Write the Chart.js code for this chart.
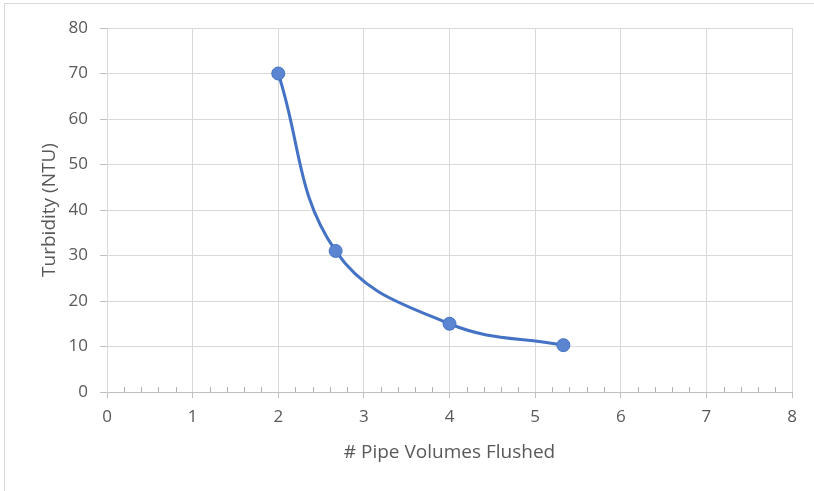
<!DOCTYPE html>
<html>
<head>
<meta charset="utf-8">
<script src="https://cdn.jsdelivr.net/npm/chart.js@4/dist/chart.umd.min.js"></script>
<style>
  body { margin: 0; background: #fff; }
  canvas { display: block; }
</style>
</head>
<body>
<canvas id="chart" width="814" height="491"></canvas>
<script>
// values
const pipeVolumes = [2, 2.67, 4, 5.33];
const turbidity = [70, 31, 15, 10.3];
const xRange = [0, 8];
const yRange = [0, 80];

const gridColor = "#d9d9d9";
const textColor = "#595959";
const blue = "#4472C4";

// outer frame + minor ticks along the x axis
const extras = {
  id: "extras",
  beforeDraw(chart) {
    const ctx = chart.ctx;
    ctx.save();
    ctx.fillStyle = "#fff";
    ctx.fillRect(0, 0, chart.width, chart.height);
    ctx.strokeStyle = gridColor;
    ctx.lineWidth = 1;
    ctx.strokeRect(4.5, 3.5, 1000, 1000);
    ctx.restore();
  },
  afterDatasetsDraw(chart) {
    const ctx = chart.ctx;
    const x = chart.scales.x;
    const yPix = chart.scales.y.getPixelForValue(0);
    ctx.save();
    ctx.strokeStyle = "#b0b0b0";
    ctx.lineWidth = 1;
    ctx.beginPath();
    for (let i = 0; i <= 40; i++) {
      if (i % 5 === 0) continue;
      const px = Math.round(x.getPixelForValue(i * 0.2)) + 0.5;
      ctx.moveTo(px, yPix - 5);
      ctx.lineTo(px, yPix);
    }
    ctx.stroke();
    ctx.restore();
  }
};

new Chart(document.getElementById("chart"), {
  type: "scatter",
  data: {
    datasets: [{
      data: pipeVolumes.map((v, i) => ({ x: v, y: turbidity[i] })),
      showLine: true,
      tension: 0.4,
      borderColor: blue,
      borderWidth: 3,
      pointRadius: 6.5,
      pointBackgroundColor: "#5B85D0",
      pointBorderColor: blue,
      pointBorderWidth: 1,
    }]
  },
  options: {
    responsive: false,
    animation: false,
    layout: { padding: { left: 0, right: 22, top: 28, bottom: 0 } },
    plugins: { legend: { display: false }, tooltip: { enabled: false } },
    scales: {
      x: {
        type: "linear",
        min: xRange[0],
        max: xRange[1],
        afterFit(scale) { scale.height = 99; },
        ticks: { stepSize: 1, color: textColor, padding: 9,
          font: { family: "'Open Sans'", size: 17 } },
        grid: { color: gridColor, tickLength: 6, tickColor: "#bfbfbf" },
        border: { color: "#bfbfbf" },
        title: {
          display: true, text: "# Pipe Volumes Flushed", color: textColor,
          font: { family: "'Open Sans'", size: 19 }, padding: { top: 0, bottom: 27 }
        }
      },
      y: {
        min: yRange[0],
        max: yRange[1],
        afterFit(scale) { scale.width = 107; },
        ticks: { stepSize: 10, color: textColor, padding: 12,
          font: { family: "'Open Sans'", size: 17 } },
        grid: { color: gridColor, tickLength: 7, tickColor: "#bfbfbf" },
        border: { color: gridColor },
        title: {
          display: true, text: "Turbidity (NTU)", color: textColor,
          font: { family: "'Open Sans'", size: 19 }, padding: { top: 38, bottom: 0 }
        }
      }
    }
  },
  plugins: [extras]
});
</script>
</body>
</html>
